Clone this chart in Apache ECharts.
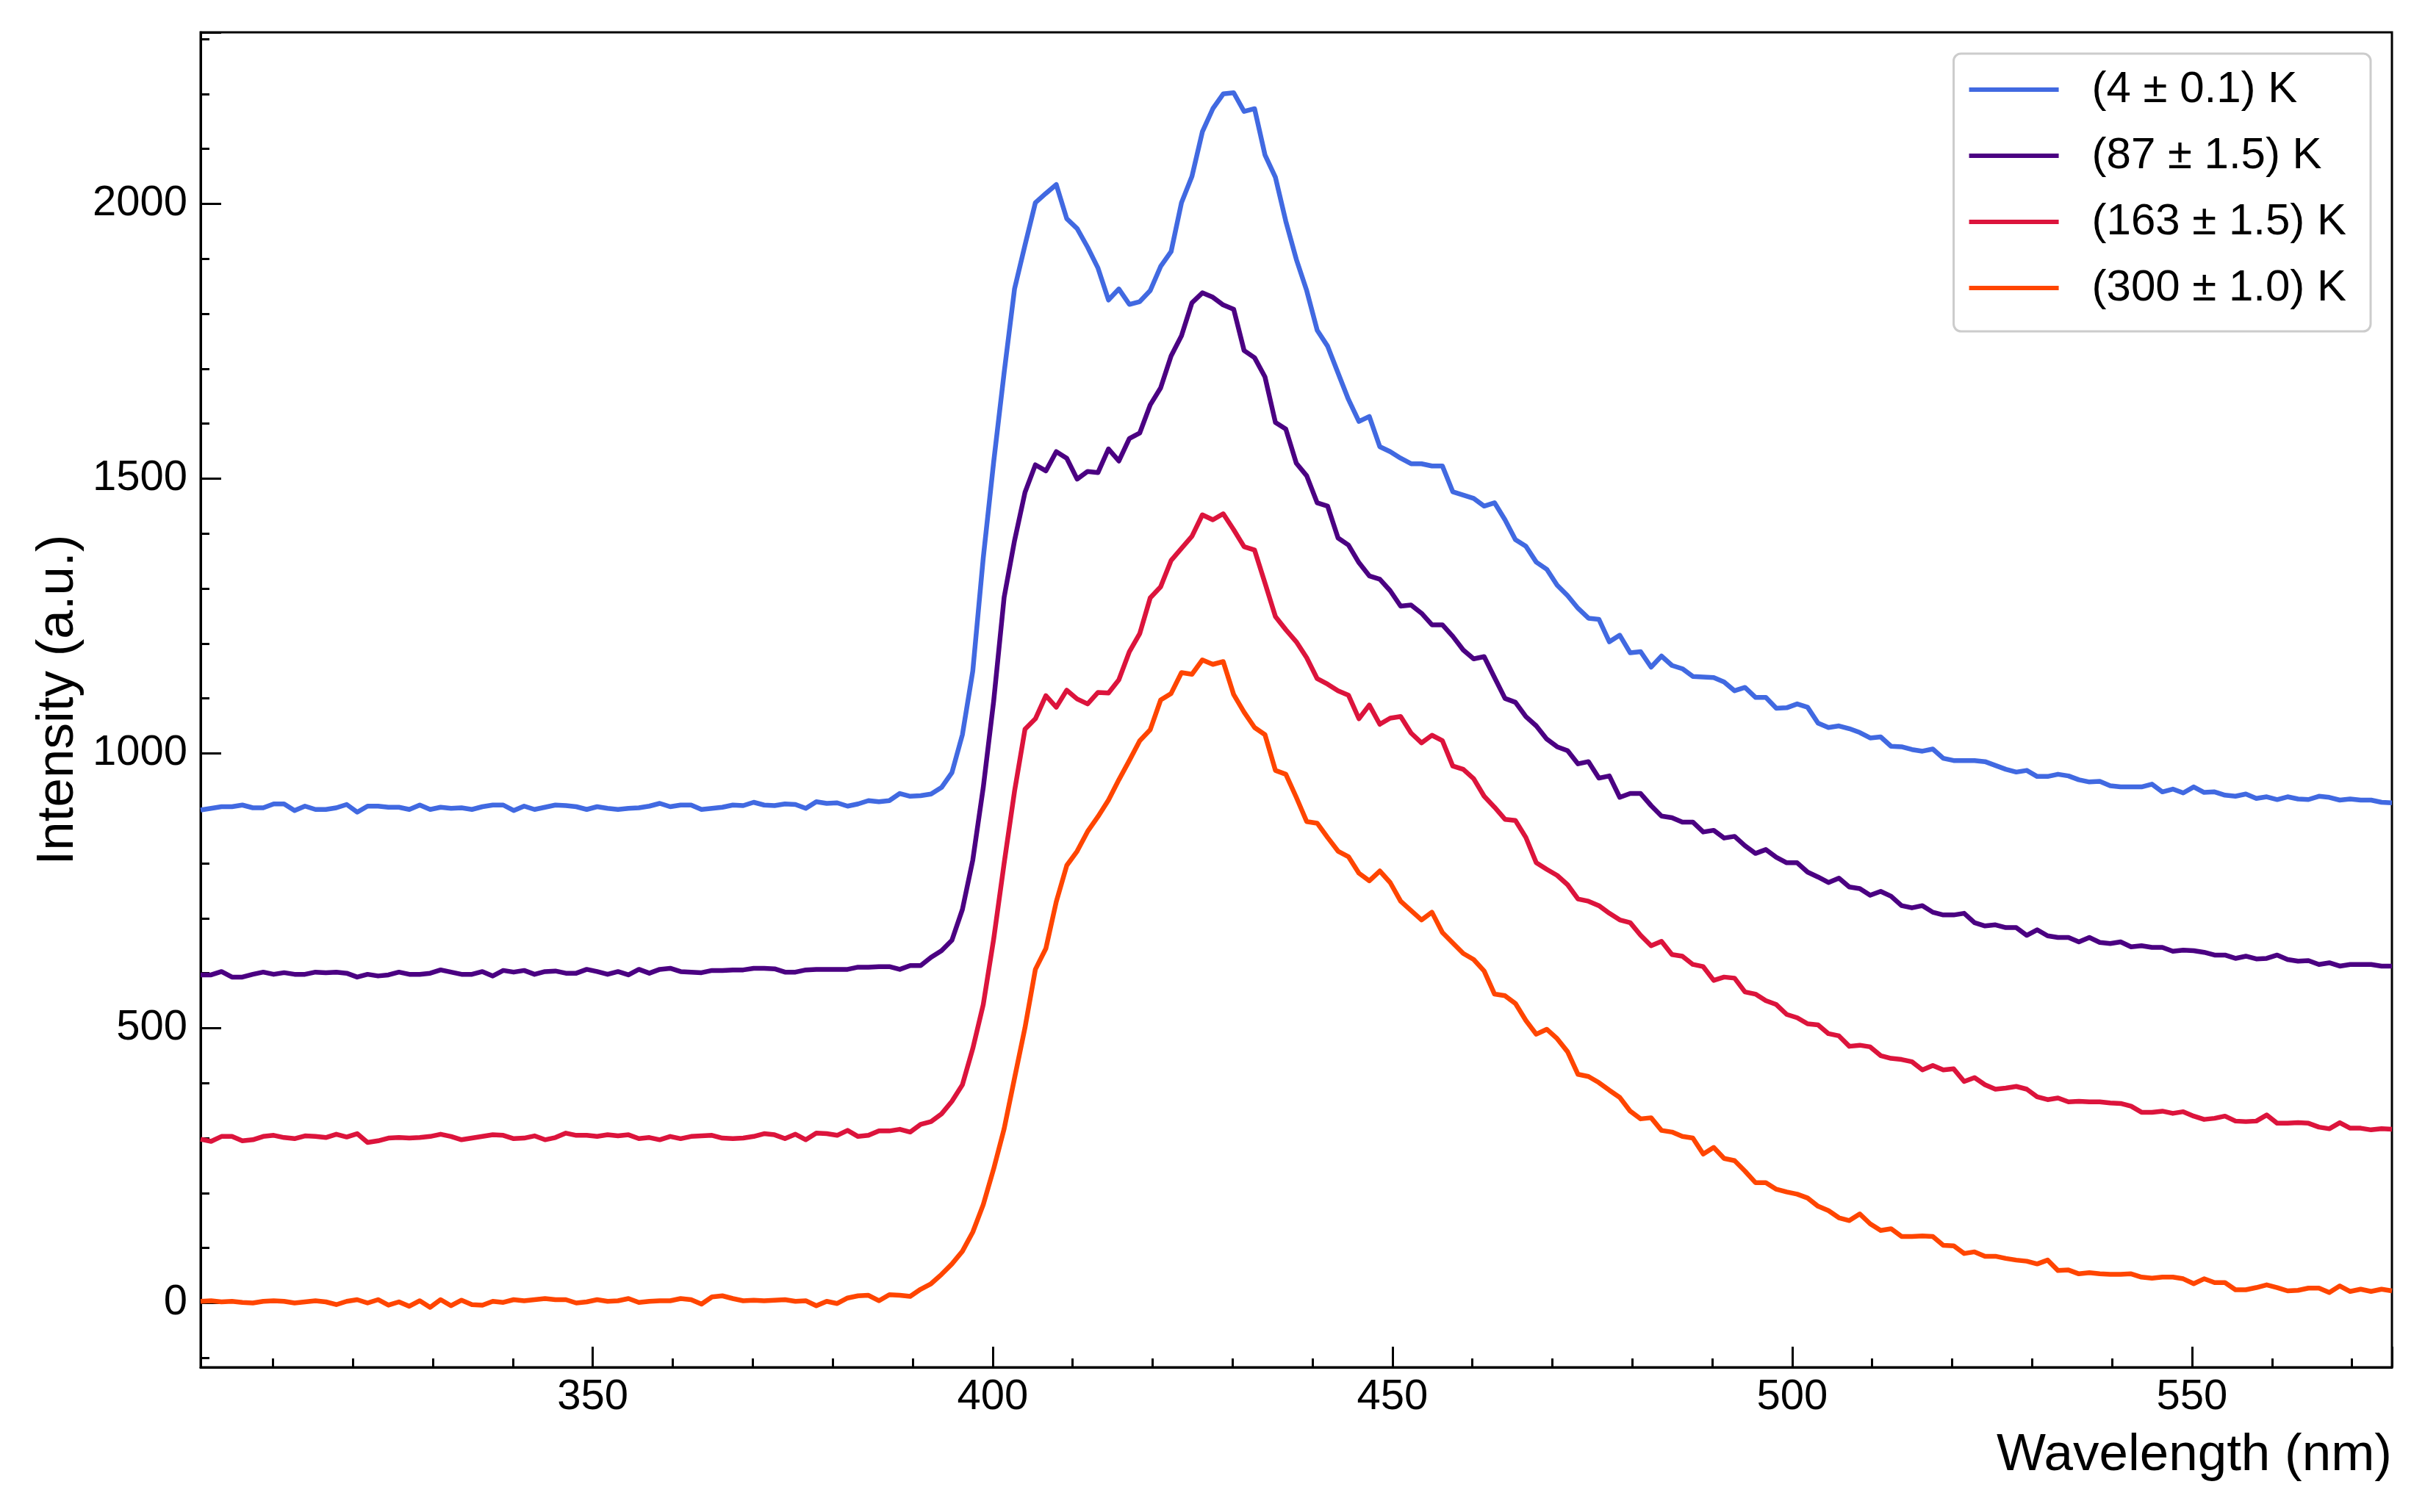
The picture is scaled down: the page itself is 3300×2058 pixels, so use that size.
<!DOCTYPE html>
<html>
<head>
<meta charset="utf-8">
<script src="https://cdn.jsdelivr.net/npm/echarts@6/dist/echarts.min.js"></script>
<style>
html,body{margin:0;padding:0;background:#ffffff;}
#chart{width:3300px;height:2058px;}
</style>
</head>
<body>
<div id="chart"></div>
<script>
// Wavelength grid (nm)
const wavelength = [
300.95,302.26,303.56,304.87,306.17,307.48,308.78,310.09,311.39,312.70,
314.00,315.31,316.61,317.92,319.22,320.53,321.83,323.14,324.44,325.75,
327.05,328.36,329.66,330.97,332.27,333.58,334.88,336.19,337.49,338.80,
340.10,341.41,342.71,344.02,345.32,346.63,347.93,349.24,350.54,351.85,
353.15,354.46,355.76,357.07,358.37,359.68,360.98,362.29,363.59,364.90,
366.20,367.51,368.81,370.12,371.42,372.73,374.03,375.34,376.64,377.95,
379.25,380.56,381.86,383.17,384.47,385.78,387.08,388.39,389.69,391.00,
392.30,393.61,394.91,396.22,397.52,398.83,400.13,401.44,402.74,404.05,
405.35,406.66,407.96,409.27,410.57,411.88,413.18,414.49,415.79,417.10,
418.40,419.71,421.01,422.32,423.62,424.93,426.23,427.54,428.84,430.15,
431.45,432.76,434.06,435.37,436.67,437.98,439.28,440.59,441.89,443.20,
444.50,445.81,447.11,448.42,449.72,451.03,452.33,453.64,454.94,456.25,
457.55,458.86,460.16,461.47,462.77,464.08,465.38,466.69,467.99,469.30,
470.60,471.91,473.21,474.52,475.82,477.13,478.43,479.74,481.04,482.35,
483.65,484.96,486.26,487.57,488.87,490.18,491.48,492.79,494.09,495.40,
496.70,498.01,499.31,500.62,501.92,503.23,504.53,505.84,507.14,508.45,
509.75,511.06,512.36,513.67,514.97,516.28,517.58,518.89,520.19,521.50,
522.80,524.11,525.41,526.72,528.02,529.33,530.63,531.94,533.24,534.55,
535.85,537.16,538.46,539.77,541.07,542.38,543.68,544.99,546.29,547.60,
548.90,550.21,551.51,552.82,554.12,555.43,556.73,558.04,559.34,560.65,
561.95,563.26,564.56,565.87,567.17,568.48,569.78,571.09,572.39,573.70,
575.00
];

const seriesNames = ['(4 \u00b1 0.1) K', '(87 \u00b1 1.5) K', '(163 \u00b1 1.5) K', '(300 \u00b1 1.0) K'];

const intensity4K = [
897,900,903,903,906,901,901,908,908,896,
904,898,898,901,907,893,904,904,902,902,
898,906,898,902,900,901,898,903,906,906,
896,904,898,902,906,905,903,898,903,900,
898,900,901,904,909,903,906,906,898,900,
902,906,905,911,906,905,908,907,900,912,
909,910,904,908,914,912,914,927,922,923,
926,938,965,1034,1150,1356,1530,1693,1845,1925,
2002,2019,2035,1973,1955,1921,1883,1825,1845,1817,
1822,1842,1886,1913,2002,2050,2131,2173,2200,2202,
2168,2173,2089,2048,1968,1899,1842,1770,1741,1692,
1644,1604,1613,1558,1549,1537,1527,1527,1523,1523,
1476,1470,1464,1450,1456,1425,1389,1377,1348,1335,
1306,1287,1264,1246,1244,1203,1215,1183,1185,1157,
1177,1160,1154,1140,1139,1138,1130,1114,1120,1102,
1102,1082,1083,1090,1084,1055,1047,1050,1045,1038,
1028,1030,1013,1012,1007,1004,1008,991,987,987,
987,985,978,971,966,969,958,958,962,959,
952,948,949,941,939,939,939,944,930,935,
928,939,929,930,924,922,926,918,921,916,
921,917,916,922,920,915,917,915,915,911,
910
];

const intensity87K = [
597,597,603,593,593,598,602,598,601,598,
598,602,601,602,600,593,598,595,597,602,
598,598,600,606,602,598,598,603,595,605,
602,605,598,603,604,600,600,607,603,598,
603,597,607,600,607,609,603,602,601,605,
605,606,606,609,609,608,602,602,606,607,
607,607,607,611,611,612,612,607,614,614,
629,641,660,716,806,938,1095,1284,1387,1475,
1525,1514,1549,1537,1499,1513,1511,1554,1532,1573,
1583,1634,1665,1723,1760,1820,1838,1830,1816,1808,
1733,1720,1685,1602,1590,1528,1505,1456,1450,1392,
1379,1347,1323,1317,1296,1268,1270,1255,1234,1234,
1213,1188,1172,1176,1138,1100,1093,1067,1050,1026,
1012,1005,981,985,955,959,920,927,927,905,
886,883,875,875,857,860,846,849,832,818,
825,811,801,801,784,775,765,773,757,754,
742,749,740,723,719,723,711,706,706,709,
692,686,688,683,683,669,679,668,665,665,
657,665,656,654,657,648,650,647,647,640,
642,641,638,633,633,627,631,626,627,633,
625,622,623,616,619,613,616,616,616,613,
613
];

const intensity163K = [
298,294,303,303,295,297,303,305,301,299,
304,303,301,307,302,308,292,295,300,301,
300,301,303,307,303,297,300,303,306,305,
299,300,304,297,301,309,305,305,303,306,
304,306,299,301,297,303,299,303,304,305,
300,299,300,303,308,306,299,307,297,309,
308,305,314,303,305,313,313,316,311,325,
330,344,367,397,463,543,662,800,931,1044,
1063,1105,1084,1115,1099,1090,1111,1110,1134,1185,
1218,1283,1303,1351,1373,1395,1434,1425,1436,1407,
1376,1370,1310,1249,1225,1203,1174,1136,1126,1114,
1106,1063,1088,1053,1064,1067,1037,1019,1033,1023,
977,971,954,922,902,880,878,847,801,789,
778,761,735,731,723,709,697,692,669,650,
658,634,631,616,612,587,593,591,566,562,
550,543,525,519,508,506,490,486,467,469,
466,450,445,443,439,424,432,424,426,403,
410,397,389,391,394,389,375,370,373,366,
367,366,366,364,363,358,347,347,349,345,
348,340,334,336,340,331,330,331,342,327,
327,328,327,320,317,328,318,318,315,317,
316
];

const intensity300K = [
3,4,2,3,1,0,3,4,3,0,
2,4,2,-3,3,6,0,6,-4,2,
-6,4,-8,6,-5,5,-3,-4,3,1,
6,4,6,8,6,6,0,2,6,3,
4,8,1,3,4,4,8,6,-2,11,
13,8,4,5,4,5,6,3,4,-5,
3,-1,9,13,14,4,15,14,12,25,
35,52,71,94,129,179,244,317,409,501,
607,645,730,796,822,858,885,915,952,987,
1023,1043,1097,1109,1147,1144,1170,1162,1167,1107,
1075,1047,1034,969,962,920,876,873,847,822,
812,782,768,786,765,731,714,697,711,674,
655,636,625,604,562,559,545,514,489,498,
481,457,416,412,401,387,374,349,335,337,
314,311,303,300,271,283,263,259,240,219,
219,207,202,198,191,176,168,155,150,162,
144,132,135,121,121,122,121,105,104,90,
93,85,85,81,78,76,71,78,59,60,
53,55,53,52,52,53,47,45,47,47,
44,35,44,37,37,24,24,28,33,28,
22,23,27,27,19,31,21,25,21,25,
22
];

const xAxisRange = [300.95, 575.0];
const yAxisRange = [-117, 2312];
const axisTitles = { x: 'Wavelength (nm)', y: 'Intensity (a.u.)' };

const colors = ['#4169E1', '#4B0082', '#DC143C', '#FF4500'];
const allSeries = [intensity4K, intensity87K, intensity163K, intensity300K];
const FONT = '"Liberation Sans", Arial, Helvetica, sans-serif';

const chart = echarts.init(document.getElementById('chart'), null, { width: 3300, height: 2058, renderer: 'canvas' });

function toPairs(ys) { return wavelength.map((x, i) => [x, ys[i]]); }
function plainNumber(v) { return String(Math.round(v)); }

const axisCommon = {
  axisLine: { show: true, onZero: false, lineStyle: { color: '#000', width: 3 } },
  axisTick: { show: true, inside: true, length: 28, lineStyle: { color: '#000', width: 3 } },
  minorTick: { show: true, splitNumber: 5, length: 12, lineStyle: { color: '#000', width: 3 } },
  splitLine: { show: false },
  minorSplitLine: { show: false }
};

const option = {
  animation: false,
  backgroundColor: '#ffffff',
  color: colors,
  grid: { left: 273, top: 44, width: 2982, height: 1817, show: true, borderColor: '#000', borderWidth: 3, backgroundColor: 'rgba(0,0,0,0)', containLabel: false },
  legend: {
    orient: 'vertical',
    right: 74,
    top: 73,
    align: 'left',
    icon: 'rect',
    itemWidth: 122,
    itemHeight: 6,
    itemGap: 30,
    padding: [19, 33, 29, 21],
    backgroundColor: '#ffffff',
    borderColor: '#cccccc',
    borderWidth: 3,
    borderRadius: 10,
    textStyle: { fontFamily: FONT, fontSize: 60, color: '#000', padding: [0, 0, 0, 40], lineHeight: 58 },
    data: seriesNames
  },
  xAxis: Object.assign({
    type: 'value',
    min: xAxisRange[0],
    max: xAxisRange[1],
    name: axisTitles.x,
    nameLocation: 'end',
    nameGap: 0,
    nameTextStyle: { fontFamily: FONT, fontSize: 71, color: '#000', align: 'right', verticalAlign: 'top', padding: [85, 0, 0, 0] },
    axisLabel: { show: true, fontFamily: FONT, fontSize: 58, color: '#000', margin: 12, showMinLabel: false, showMaxLabel: false, formatter: plainNumber }
  }, axisCommon),
  yAxis: Object.assign({
    type: 'value',
    min: yAxisRange[0],
    max: yAxisRange[1],
    name: axisTitles.y,
    nameLocation: 'middle',
    nameGap: 148,
    nameTextStyle: { fontFamily: FONT, fontSize: 71, color: '#000' },
    axisLabel: { show: true, fontFamily: FONT, fontSize: 58, color: '#000', margin: 18, showMinLabel: false, showMaxLabel: false, formatter: plainNumber }
  }, axisCommon),
  series: allSeries.map((ys, i) => ({
    name: seriesNames[i],
    type: 'line',
    data: toPairs(ys),
    showSymbol: false,
    symbol: 'none',
    smooth: false,
    clip: true,
    z: 2 + i,
    lineStyle: { color: colors[i], width: 6.5, join: 'round', cap: 'butt' },
    itemStyle: { color: colors[i] },
    emphasis: { disabled: true }
  }))
};

chart.setOption(option);
</script>
</body>
</html>
